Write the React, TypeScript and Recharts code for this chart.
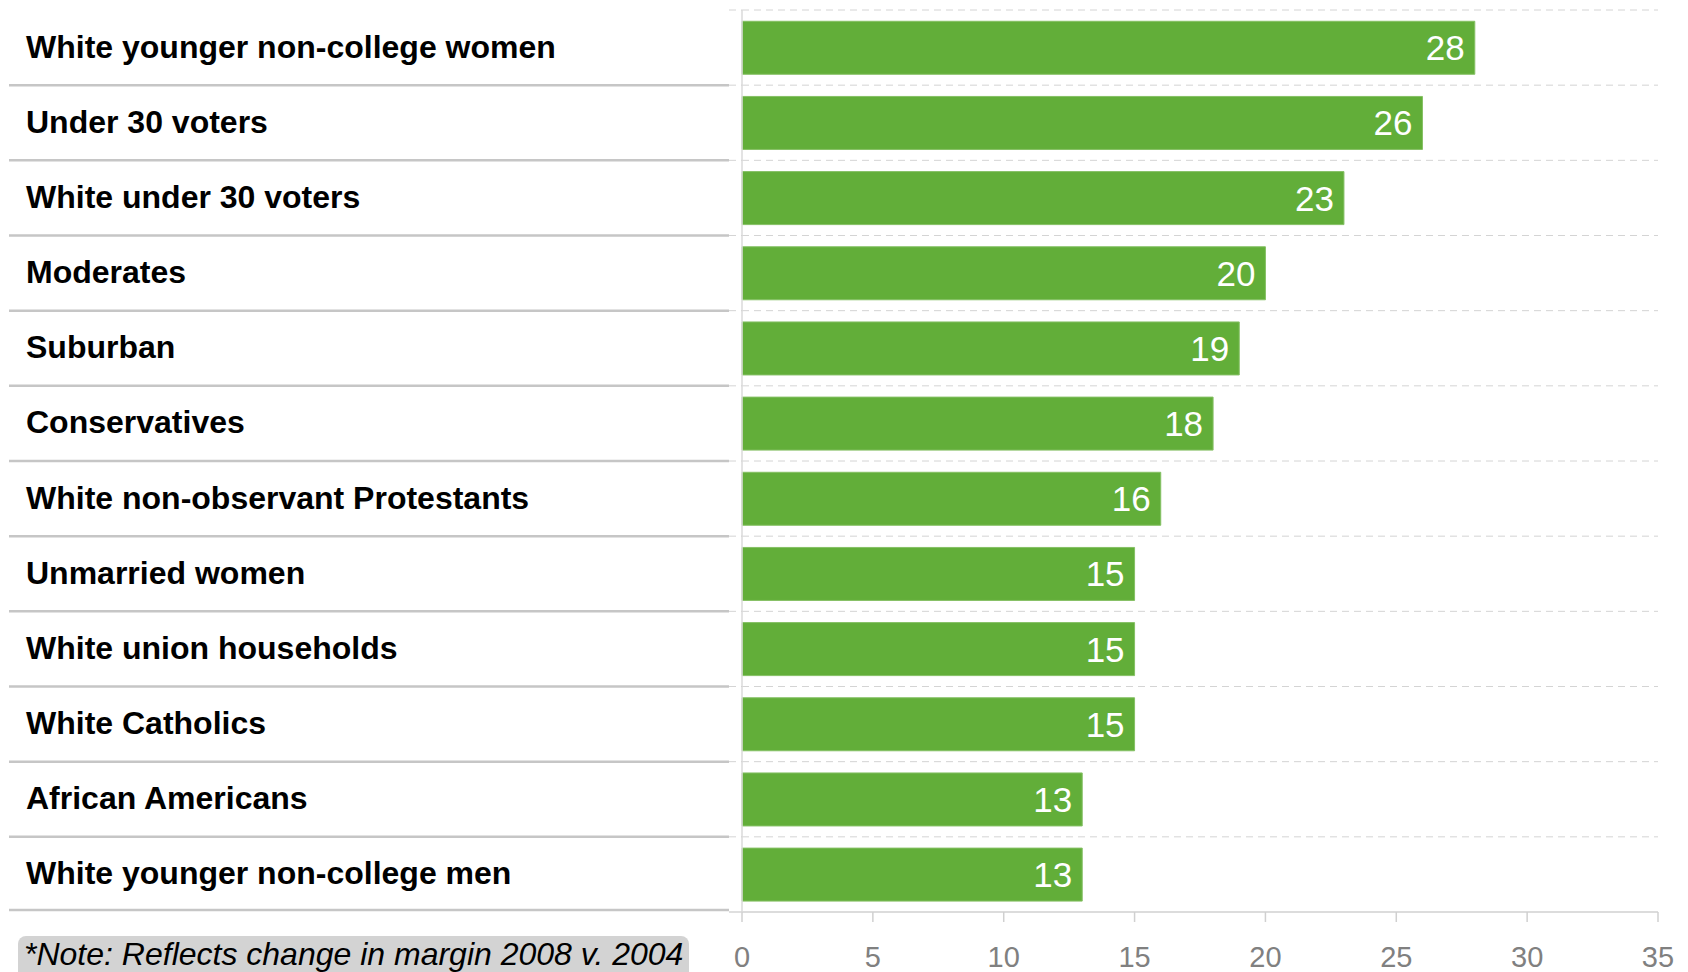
import { BarChart, Bar, XAxis, YAxis, CartesianGrid, LabelList } from "recharts"

const groups = [
  "White younger non-college women",
  "Under 30 voters",
  "White under 30 voters",
  "Moderates",
  "Suburban",
  "Conservatives",
  "White non-observant Protestants",
  "Unmarried women",
  "White union households",
  "White Catholics",
  "African Americans",
  "White younger non-college men"
]

const marginChange = [28, 26, 23, 20, 19, 18, 16, 15, 15, 15, 13, 13]

const xTicks = [0, 5, 10, 15, 20, 25, 30, 35]

const note = "*Note: Reflects change in margin 2008 v. 2004"

const W = 1688
const H = 972
const M = { top: 10, right: 30, bottom: 0, left: 0 }
const AXIS_W = 742
const AXIS_H = 60
const BAND = (H - M.top - M.bottom - AXIS_H) / groups.length
const FONT = "'Liberation Sans', Arial, sans-serif"

const data = groups.map((label, i) => ({ label, value: marginChange[i] }))

function LabelTick(props: any) {
  const { y, payload, index } = props
  const below = y + BAND / 2
  const last = index === groups.length - 1
  return (
    <g>
      <text
        x={26}
        y={y - 1}
        dominantBaseline="central"
        fontFamily={FONT}
        fontWeight="bold"
        fontSize={32}
        fill="#000"
      >
        {payload.value}
      </text>
      <line x1={9} x2={729} y1={last ? below - 2 : below} y2={last ? below - 2 : below} stroke="#c6c6c6" strokeWidth={2.5} />
      {index === 0 && (
        <line x1={729} x2={742} y1={y - BAND / 2} y2={y - BAND / 2} stroke="#d4d4d4" strokeDasharray="7 5" />
      )}
      <line
        x1={729}
        x2={742}
        y1={below}
        y2={below}
        stroke="#d4d4d4"
        strokeWidth={last ? 1.5 : 1}
        strokeDasharray={last ? undefined : "7 5"}
      />
    </g>
  )
}

export default function App() {
  return (
    <div style={{ position: "absolute", left: 0, top: 0, width: W, height: H }}>
      <BarChart
        width={W}
        height={H}
        data={data}
        layout="vertical"
        margin={M}
        barCategoryGap="15%"
      >
        <CartesianGrid
          vertical={false}
          stroke="#d4d4d4"
          strokeDasharray="7 5"
          horizontalCoordinatesGenerator={({ offset }: any) =>
            groups.map((_, i) => offset.top + i * (offset.height / groups.length))
          }
        />
        <XAxis
          type="number"
          domain={[0, 35]}
          ticks={xTicks}
          interval={0}
          tickSize={10}
          tickMargin={24}
          axisLine={{ stroke: "#d0d0d0", strokeWidth: 1.5 }}
          tickLine={{ stroke: "#d0d0d0", strokeWidth: 1.5 }}
          tick={{ fill: "#808080", fontSize: 29, fontFamily: FONT }}
          height={AXIS_H}
        />
        <YAxis
          type="category"
          dataKey="label"
          width={AXIS_W}
          interval={0}
          tickLine={false}
          axisLine={{ stroke: "#dadada", strokeWidth: 1.5 }}
          tick={<LabelTick />}
        />
        <Bar dataKey="value" fill="#62ae39" stroke="#85c064" strokeWidth={1} isAnimationActive={false}>
          <LabelList
            dataKey="value"
            position="insideRight"
            offset={10}
            fill="#ffffff"
            fontSize={35}
            fontFamily={FONT}
          />
        </Bar>
      </BarChart>
      <div
        style={{
          position: "absolute",
          left: 18,
          top: 936,
          width: 671,
          height: 36,
          boxSizing: "border-box",
          background: "#d3d3d3",
          borderRadius: "8px 8px 0 0",
          paddingLeft: 6,
          paddingTop: 2,
          lineHeight: "32px",
          fontFamily: FONT,
          fontStyle: "italic",
          fontSize: 32,
          color: "#000",
          whiteSpace: "nowrap"
        }}
      >
        {note}
      </div>
    </div>
  )
}
